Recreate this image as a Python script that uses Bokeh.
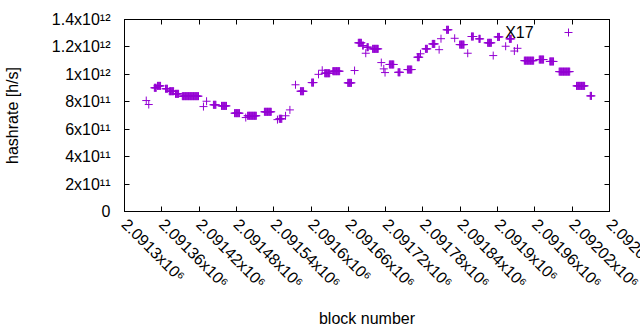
from bokeh.plotting import figure
from bokeh.models import (FixedTicker, LinearAxis, Range1d, Legend, LegendItem,
                          ColumnDataSource, Label)
from bokeh.core.properties import value
from bokeh.embed import file_html
from bokeh.resources import INLINE
import math

# ---- data: runs of consecutive blocks sharing one hashrate value ----
run_start = [2091335, 2091339, 2091348, 2091353, 2091366, 2091372, 2091382, 2091393,
             2091427, 2091432, 2091443, 2091456, 2091477, 2091495, 2091498, 2091525,
             2091546, 2091549, 2091559, 2091566, 2091575, 2091583, 2091601, 2091612,
             2091618, 2091622, 2091635, 2091659, 2091670, 2091676, 2091683, 2091688,
             2091690, 2091699, 2091713, 2091717, 2091719, 2091726, 2091740, 2091755,
             2091771, 2091776, 2091784, 2091795, 2091806, 2091809, 2091818, 2091831,
             2091839, 2091852, 2091858, 2091870, 2091884, 2091893, 2091900, 2091913,
             2091919, 2091927, 2091932, 2091943, 2091967, 2091984, 2091999, 2092027,
             2092049]
run_end = [2091335, 2091339, 2091351, 2091358, 2091369, 2091379, 2091387, 2091419,
           2091427, 2091432, 2091447, 2091464, 2091485, 2091495, 2091512, 2091536,
           2091546, 2091553, 2091559, 2091566, 2091575, 2091588, 2091604, 2091612,
           2091618, 2091630, 2091646, 2091665, 2091670, 2091681, 2091684, 2091688,
           2091692, 2091708, 2091713, 2091717, 2091719, 2091733, 2091743, 2091762,
           2091774, 2091776, 2091787, 2091799, 2091806, 2091809, 2091821, 2091831,
           2091846, 2091852, 2091861, 2091872, 2091890, 2091893, 2091903, 2091913,
           2091922, 2091927, 2091932, 2091958, 2091974, 2091990, 2092016, 2092040,
           2092051]
run_value = [8.09e11, 7.80e11, 9.02e11, 9.16e11, 8.95e11, 8.77e11, 8.58e11, 8.41e11,
             7.65e11, 8.04e11, 7.78e11, 7.70e11, 7.17e11, 6.85e11, 6.98e11, 7.27e11,
             6.70e11, 6.76e11, 6.98e11, 7.41e11, 9.24e11, 8.77e11, 9.40e11, 1.00e12,
             1.03e12, 1.008e12, 1.023e12, 9.38e11, 1.028e12, 1.23e12, 1.21e12, 1.154e12,
             1.198e12, 1.186e12, 1.086e12, 1.04e12, 1.013e12, 1.072e12, 1.015e12, 1.035e12,
             1.125e12, 1.15e12, 1.186e12, 1.222e12, 1.18e12, 1.26e12, 1.325e12, 1.263e12,
             1.217e12, 1.154e12, 1.276e12, 1.259e12, 1.23e12, 1.137e12, 1.273e12, 1.205e12,
             1.259e12, 1.17e12, 1.19e12, 1.10e12, 1.108e12, 1.094e12, 1.02e12, 9.16e11,
             8.43e11]

x_ticks = [2091300 + 60 * k for k in range(14)]
x_tick_labels = ["2.0913x10⁶", "2.09136x10⁶", "2.09142x10⁶", "2.09148x10⁶",
                 "2.09154x10⁶", "2.0916x10⁶", "2.09166x10⁶", "2.09172x10⁶",
                 "2.09178x10⁶", "2.09184x10⁶", "2.0919x10⁶", "2.09196x10⁶",
                 "2.09202x10⁶", "2.09208x10⁶"]
y_ticks = [0, 2e11, 4e11, 6e11, 8e11, 1e12, 1.2e12, 1.4e12]
y_tick_labels = ["0", "2x10¹¹", "4x10¹¹", "6x10¹¹", "8x10¹¹", "1x10¹²",
                 "1.2x10¹²", "1.4x10¹²"]
series_name = "X17"

blocks, rates = [], []
for s, e, v in zip(run_start, run_end, run_value):
    for b in range(s, e + 1):
        blocks.append(b)
        rates.append(v)
src = ColumnDataSource(dict(x=blocks, y=rates))

FONT = "Liberation Sans"
FS = "16px"
COLOR = "#9400D3"

# the canvas runs a little past the 640px window, like the reference, so the last
# rotated tick label is cut by the window edge instead of being pushed inward
p = figure(width=690, height=330, output_backend="svg", toolbar_location=None,
           x_range=Range1d(x_ticks[0], x_ticks[-1]), y_range=Range1d(0, 1.4e12),
           min_border_left=124, min_border_right=81, min_border_top=19,
           min_border_bottom=119)
p.grid.visible = False
p.outline_line_color = "black"
p.background_fill_color = "white"

r = p.scatter("x", "y", source=src, marker="cross", size=8, line_color=COLOR,
              line_width=1)

def style(ax):
    ax.axis_line_color = "black"
    ax.major_tick_line_color = "black"
    ax.major_tick_in = 5
    ax.major_tick_out = 0
    ax.minor_tick_line_color = None
    ax.major_label_text_font = FONT
    ax.major_label_text_font_size = FS
    ax.major_label_text_color = "black"
    ax.axis_label_text_font = FONT
    ax.axis_label_text_font_size = FS
    ax.axis_label_text_font_style = "normal"
    ax.axis_label_text_color = "black"

xa = p.xaxis[0]
xa.ticker = FixedTicker(ticks=x_ticks)
xa.major_label_overrides = {t: l for t, l in zip(x_ticks, x_tick_labels)}
xa.major_label_orientation = -math.pi / 4
xa.axis_label = "block number"
style(xa)
xa.major_label_standoff = 10
xa.axis_label_standoff = 10

ya = p.yaxis[0]
ya.ticker = FixedTicker(ticks=y_ticks)
ya.major_label_overrides = {t: l for t, l in zip(y_ticks, y_tick_labels)}
ya.axis_label = "hashrate [h/s]"
style(ya)
ya.major_label_standoff = 14
ya.axis_label_standoff = 28

# mirrored tick marks on the top and right edges (no labels drawn)
top = LinearAxis(ticker=FixedTicker(ticks=x_ticks))
style(top)
top.major_label_text_color = None
top.major_label_text_font_size = "1px"
top.major_label_standoff = 0
p.add_layout(top, "above")
right = LinearAxis(ticker=FixedTicker(ticks=y_ticks))
style(right)
right.major_label_text_color = None
right.major_label_text_font_size = "1px"
right.major_label_standoff = 0
p.add_layout(right, "right")

# key: text then sample marker, gnuplot style
key_text = Label(x=2091958, y=1.305e12, text=series_name, text_align="right",
                 text_baseline="middle", text_font=FONT, text_font_size=FS,
                 text_color="black")
p.add_layout(key_text)
legend = Legend(items=[LegendItem(label=value(""), renderers=[r])],
                location=(434, 169), padding=0, margin=0, spacing=0,
                glyph_width=20, glyph_height=20, label_standoff=0,
                label_text_font=FONT, label_text_font_size=FS,
                border_line_color=None, background_fill_alpha=0)
p.add_layout(legend, "center")

open("out.html", "w").write(file_html(p, INLINE))
